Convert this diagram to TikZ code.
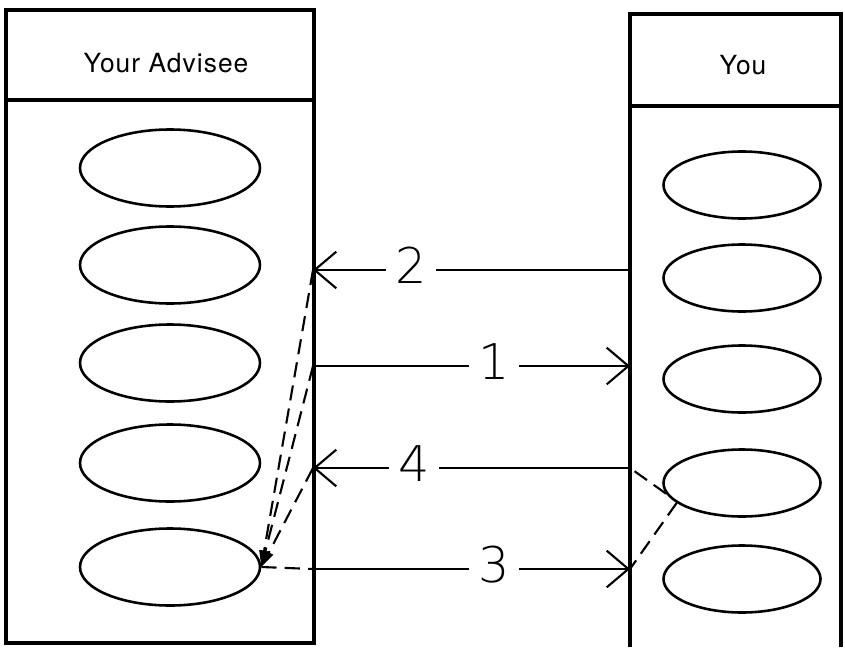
\documentclass[tikz,border=0pt]{standalone}
\usepackage{fontspec}
\setmainfont{TeX Gyre Heros}
\newfontfamily\headfont[LetterSpace=4]{TeX Gyre Heros}
\newfontfamily\numfont{DejaVu Sans ExtraLight}
\usetikzlibrary{shapes.geometric}
\usetikzlibrary{arrows.meta}
\tikzset{
    col/.style={line width=2.6pt},
    oval/.style={draw, ellipse, line width=2.2pt, inner sep=0pt},
    ovalA/.style={oval, minimum width=5.4cm, minimum height=2.31cm},
    ovalY/.style={oval, minimum width=4.71cm, minimum height=2.01cm},
    msg/.style={line width=1.8pt, -{Straight Barb[length=6.5mm, width=11mm]}},
    dashback/.style={line width=1.8pt, dash pattern=on 13pt off 7pt},
    num/.style={fill=white, inner sep=0pt, minimum width=1.5cm, yshift=4pt,
        font=\numfont\fontsize{42}{42}\selectfont},
    head/.style={font=\headfont\fontsize{22.5}{26}\selectfont}
}
\newcommand{\msgline}[4] {
	\draw[msg] (#1) -- node[num, pos=#3] {#4} (#2);
}

\begin{document}
\begin{tikzpicture}[x=0.03cm, y=-0.03cm]
		\useasboundingbox (0,0) rectangle (845,647);

		% Advisee column
		\draw[col] (6,10) rectangle (314,643);
		\draw[col] (6,100) -- (314,100);
		\node[head] (adv) at (166,63) {Your Advisee};
		\foreach \y [count=\i] in {168,265,363,463,567}
			\node[ovalA] (a\i) at (170,\y) {};

		% Your column, runs off the bottom
		\draw[col] (630,647) -- (630,14) -- (841,14) -- (841,647);
		\draw[col] (630,106) -- (841,106);
		\node[head] (you) at (743,65) {You};
		\foreach \y [count=\i] in {185,278,379,483,579}
			\node[ovalY] (y\i) at (742,\y) {};

		% Ends of the messages on the column edges
		\coordinate (c2l) at (313,270);
		\coordinate (c2r) at (630,270);
		\coordinate (c1l) at (313,366);
		\coordinate (c1r) at (630,366);
		\coordinate (c4l) at (313,468);
		\coordinate (c4r) at (630,468);
		\coordinate (c3l) at (313,569);
		\coordinate (c3r) at (630,569);

		% Messages
		\msgline{c2r}{c2l}{0.69}{2}
		\msgline{c1l}{c1r}{0.57}{1}
		\msgline{c4r}{c4l}{0.68}{4}
		\msgline{c3l}{c3r}{0.57}{3}

		% Dashed hand-overs
		\draw[dashback] (a5.east) -- (c3l);
		\draw[dashback] (y4.188) -- (c4r);
		\draw[dashback] (y4.197) -- (c3r);
		\foreach \c in {c2l,c1l,c4l}
			\draw[dashback, -{Triangle[length=14pt, width=8pt]}] (\c) -- (a5.east);

	\end{tikzpicture}
\end{document}
